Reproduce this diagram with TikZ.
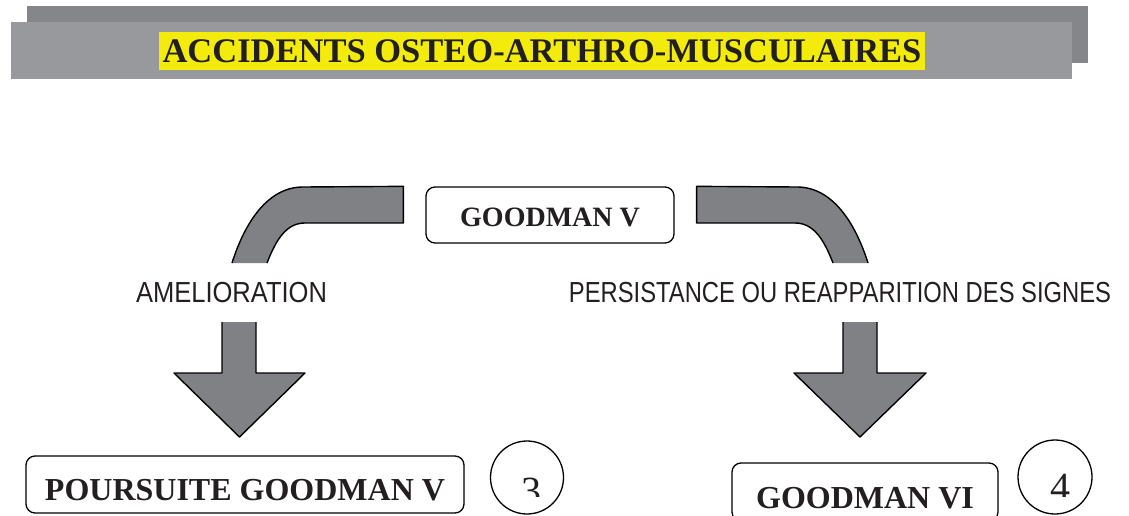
\documentclass[tikz,border=0pt]{standalone}
\usepackage{fontspec}
\setmainfont{Liberation Serif}
\newfontfamily\arialf{Liberation Sans}
\definecolor{bandgray}{RGB}{128,129,133}
\definecolor{backgray}{RGB}{133,134,138}
\definecolor{frontgray}{RGB}{152,153,157}
\definecolor{yellowhl}{RGB}{243,235,12}
\definecolor{txt}{RGB}{35,31,32}
\begin{document}
\begin{tikzpicture}[x=1pt,y=-1pt,
  bandline/.style={draw=black, line width=1.4pt, line join=round},
  bx/.style={draw=black, line width=1.3pt, rounded corners=9pt, fill=white, inner sep=0pt,
    font=\fontsize{32}{36}\selectfont\bfseries, text=txt, text height=32pt, text depth=0pt},
  lbltext/.style={font=\arialf\fontsize{29}{32}\selectfont, text=txt, inner sep=0pt, anchor=base},
  numcircle/.style={circle, draw=black, line width=1.3pt, inner sep=0pt},
  digit/.style={font=\fontsize{40}{44}\selectfont, text=txt, inner sep=0pt, anchor=base}
]
\useasboundingbox (0,0) rectangle (1129,516);
% banner
\fill[backgray] (27,6) rectangle (1088,63);
\fill[frontgray] (11,22) rectangle (1072,79);
\node[fill=yellowhl, inner sep=0pt, minimum width=766pt, minimum height=38pt,
  font=\fontsize{34.5}{38}\selectfont\bfseries, text=txt, text height=24pt, text depth=0pt]
  (title) at (542,51) {ACCIDENTS OSTEO-ARTHRO-MUSCULAIRES};
% top box
\node[bx, minimum width=248pt, minimum height=56pt, font=\fontsize{28}{32}\selectfont\bfseries,
  text height=22pt] (gv) at (550,215) {GOODMAN V};
% left band
\coordinate (lb) at ([xshift=-22pt]gv.north west);
\fill[bandgray] (lb) -- (303,187) .. controls (268,187) and (245,222) .. (232,263)
  -- (267,263) .. controls (276,240) and (286,223) .. (305,223) -- (lb |- 0,223) -- cycle;
\draw[bandline] (232,263) .. controls (245,222) and (268,187) .. (303,187) -- (lb)
  -- (lb |- 0,223) -- (305,223) .. controls (286,223) and (276,240) .. (267,263);
% right band
\coordinate (rb) at ([xshift=22pt]gv.north east);
\fill[bandgray] (rb) -- (797,187) .. controls (832,187) and (855,222) .. (868,263)
  -- (833,263) .. controls (824,240) and (814,223) .. (795,223) -- (rb |- 0,223) -- cycle;
\draw[bandline] (868,263) .. controls (855,222) and (832,187) .. (797,187) -- (rb)
  -- (rb |- 0,223) -- (795,223) .. controls (814,223) and (824,240) .. (833,263);
% labels
\node[lbltext] (amel) at (231.5,302) {\scalebox{0.88}[1]{AMELIORATION}};
\node[lbltext] (pers) at (840,302) {\scalebox{0.82}[1]{PERSISTANCE OU REAPPARITION DES SIGNES}};
% bottom boxes
\node[bx, minimum width=438pt, minimum height=57pt] (pg) at (245,484.5) {POURSUITE GOODMAN V};
\node[bx, minimum width=266pt, minimum height=58pt] (g6) at (865,492) {GOODMAN VI};
% down arrows
\coordinate (la) at (239.5,437);
\fill[bandgray] (222,322) -- (256,322) -- (256,373) -- (305,373) -- (la) -- (174,373) -- (222,373) -- cycle;
\draw[bandline] (256,322) -- (256,373) -- (305,373) -- (la) -- (174,373) -- (222,373) -- (222,322);
\coordinate (ra) at (860,437);
\fill[bandgray] (843,322) -- (877,322) -- (877,373) -- (926,373) -- (ra) -- (794,373) -- (843,373) -- cycle;
\draw[bandline] (877,322) -- (877,373) -- (926,373) -- (ra) -- (794,373) -- (843,373) -- (843,322);
% circles
\node[numcircle, minimum size=73pt] (c3) at (527,477.5) {};
\node[numcircle, minimum size=74pt] (c4) at (1055,477) {};
\begin{scope}
  \clip (480,430) rectangle (1100,496);
  \node[digit] (n3) at (531,504) {3};
  \node[digit] (n4) at (1060,500) {4};
\end{scope}
\end{tikzpicture}
\end{document}
